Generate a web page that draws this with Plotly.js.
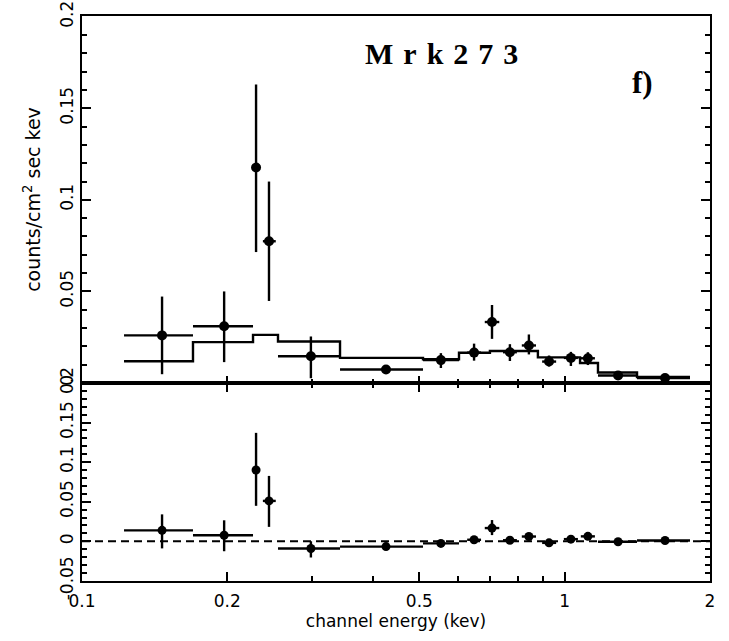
<!DOCTYPE html>
<html>
<head>
<meta charset="utf-8">
<script src="https://cdn.plot.ly/plotly-3.0.1.min.js"></script>
<style>
  html, body { margin: 0; padding: 0; background: #fff; }
  #plot { width: 729px; height: 641px; }
</style>
</head>
<body>
<div id="plot"></div>
<script>
// Mrk 273 spectrum: channel energy bins (keV), count rates and residuals.
const energy   = [0.1465, 0.197, 0.2294, 0.244, 0.298, 0.4264, 0.554, 0.649, 0.707, 0.770, 0.843, 0.928, 1.03, 1.117, 1.29, 1.614];
const energyLo = [0.1222, 0.1698, 0.2294, 0.237, 0.2547, 0.3424, 0.5087, 0.628, 0.683, 0.745, 0.815, 0.898, 0.996, 1.080, 1.172, 1.412];
const energyHi = [0.1698, 0.2261, 0.2294, 0.252, 0.3424, 0.5087, 0.604, 0.671, 0.732, 0.796, 0.872, 0.960, 1.065, 1.155, 1.412, 1.818];

// observed count rate (counts/cm^2 sec keV) with lower / upper error limits
const counts   = [0.026, 0.031, 0.1177, 0.0774, 0.0146, 0.0074, 0.0125, 0.0166, 0.0333, 0.0168, 0.0205, 0.0117, 0.0137, 0.0135, 0.0041, 0.0027];
const countsLo = [0.0048, 0.0114, 0.0715, 0.0448, 0.0026, 0.0052, 0.0082, 0.0122, 0.0241, 0.0120, 0.0156, 0.0090, 0.0093, 0.0098, 0.0025, 0.0015];
const countsHi = [0.0472, 0.0500, 0.1630, 0.1100, 0.0254, 0.0096, 0.0163, 0.0215, 0.0426, 0.0212, 0.0265, 0.0150, 0.0170, 0.0168, 0.0057, 0.0039];

// folded model (histogram): bin edges and model rate per bin
const modelEdges = [0.1222, 0.1698, 0.2261, 0.2547, 0.3424, 0.5087, 0.604, 0.700, 0.880, 1.076, 1.172, 1.412, 1.818];
const modelRate  = [0.0119, 0.0223, 0.0263, 0.0227, 0.0137, 0.0130, 0.0165, 0.0175, 0.0140, 0.0109, 0.0057, 0.0033];

// residuals (data - model) with lower / upper limits
const resid   = [0.0138, 0.0076, 0.090, 0.051, -0.0091, -0.0067, -0.0027, 0.0019, 0.0167, 0.0013, 0.006, -0.002, 0.0027, 0.0062, -0.0006, 0.001];
const residLo = [-0.009, -0.0126, 0.0448, 0.0182, -0.0205, -0.0097, -0.0067, -0.0021, 0.0078, -0.0027, 0.0020, -0.0050, -0.0003, 0.0032, -0.0036, -0.0020];
const residHi = [0.034, 0.0265, 0.137, 0.0826, 0.0, -0.0037, 0.0013, 0.0059, 0.0268, 0.0053, 0.0100, 0.0010, 0.0057, 0.0092, 0.0024, 0.0040];

const xTicks = [0.1, 0.2, 0.5, 1, 2];
const xTickText = ['0.1', '0.2', '0.5', '1', '2'];
const xMinorTicks = [0.3, 0.4, 0.6, 0.7, 0.8, 0.9];
const yTopTicks = [0, 0.05, 0.1, 0.15, 0.2];
const yTopText = ['0', '0.05', '0.1', '0.15', '0.2'];
const yResTicks = [-0.05, 0, 0.05, 0.1, 0.15, 0.2];
const yResText = ['-0.05', '0', '0.05', '0.1', '0.15', '0.2'];

const ink = '#000';
const diff = (a, b) => a.map((v, i) => v - b[i]);

const errX = {
  type: 'data', symmetric: false,
  array: diff(energyHi, energy), arrayminus: diff(energy, energyLo),
  color: ink, thickness: 2.4, width: 0
};

const data = [
  {
    // histogram model
    x: modelEdges,
    y: modelRate.concat([modelRate[modelRate.length - 1]]),
    xaxis: 'x2', yaxis: 'y2',
    mode: 'lines', line: { shape: 'hv', color: ink, width: 2.4 },
    hoverinfo: 'skip', showlegend: false
  },
  {
    x: energy, y: counts, xaxis: 'x2', yaxis: 'y2',
    mode: 'markers', marker: { color: ink, size: 10 },
    error_x: errX,
    error_y: { type: 'data', symmetric: false,
      array: diff(countsHi, counts), arrayminus: diff(counts, countsLo),
      color: ink, thickness: 2.4, width: 0 },
    showlegend: false
  },
  {
    x: energy, y: resid, xaxis: 'x', yaxis: 'y',
    mode: 'markers', marker: { color: ink, size: 9 },
    error_x: errX,
    error_y: { type: 'data', symmetric: false,
      array: diff(residHi, resid), arrayminus: diff(resid, residLo),
      color: ink, thickness: 2.4, width: 0 },
    showlegend: false
  }
];

const tickFont = { family: 'DejaVu Sans, sans-serif', size: 17, color: ink };
const bottomFrac = 198 / 565;

const layout = {
  width: 729, height: 641,
  margin: { l: 82, r: 19, t: 16, b: 60 },
  paper_bgcolor: '#fff', plot_bgcolor: '#fff',
  showlegend: false,
  xaxis: {
    type: 'log', range: [Math.log10(0.1), Math.log10(2)], domain: [0, 1], anchor: 'y',
    tickmode: 'array', tickvals: xTicks, ticktext: xTickText,
    ticks: 'inside', ticklen: 9, tickwidth: 2, tickcolor: ink, ticklabelstandoff: 4,
    ticklabeloverflow: 'allow',
    minor: { tickmode: 'array', tickvals: xMinorTicks, ticks: 'inside', ticklen: 5, tickwidth: 2, tickcolor: ink },
    showline: true, linecolor: ink, linewidth: 2, mirror: 'ticks',
    showgrid: false, zeroline: false, tickfont: tickFont,
    title: { text: 'channel energy (kev)', font: { family: 'DejaVu Sans, sans-serif', size: 17, color: ink }, standoff: 4 }
  },
  yaxis: {
    domain: [0, bottomFrac], range: [-0.0502, 0.2], anchor: 'x',
    tickmode: 'array', tickvals: yResTicks, ticktext: yResText, tickangle: -90,
    ticklabeloverflow: 'allow',
    ticks: 'inside', ticklen: 9, tickwidth: 2, tickcolor: ink,
    minor: { dtick: 0.01, ticks: 'inside', ticklen: 5, tickwidth: 2, tickcolor: ink },
    showline: true, linecolor: ink, linewidth: 2, mirror: 'ticks',
    showgrid: false, zeroline: false, tickfont: tickFont
  },
  xaxis2: {
    type: 'log', range: [Math.log10(0.1), Math.log10(2)], domain: [0, 1], anchor: 'y2', matches: 'x',
    tickmode: 'array', tickvals: xTicks, showticklabels: false,
    ticks: 'inside', ticklen: 7, tickwidth: 2, tickcolor: ink,
    minor: { tickmode: 'array', tickvals: xMinorTicks, ticks: 'inside', ticklen: 4, tickwidth: 2, tickcolor: ink },
    showline: true, linecolor: ink, linewidth: 2, mirror: true,
    showgrid: false, zeroline: false
  },
  yaxis2: {
    domain: [bottomFrac, 1], range: [0, 0.2004], anchor: 'x2',
    tickmode: 'array', tickvals: yTopTicks, ticktext: yTopText, tickangle: -90,
    ticklabeloverflow: 'allow',
    ticks: 'inside', ticklen: 9, tickwidth: 2, tickcolor: ink,
    minor: { dtick: 0.01, ticks: 'inside', ticklen: 5, tickwidth: 2, tickcolor: ink },
    showline: true, linecolor: ink, linewidth: 2, mirror: 'ticks',
    showgrid: false, zeroline: false, tickfont: tickFont,
    title: { text: 'counts/cm<sup>2</sup> sec kev', font: { family: 'DejaVu Sans, sans-serif', size: 19, color: ink }, standoff: 12 }
  },
  shapes: [
    // zero level of the residual panel
    { type: 'line', xref: 'x domain', yref: 'y', x0: 0, x1: 1, y0: 0, y1: 0,
      line: { color: ink, width: 2, dash: '8px,5px' } }
  ],
  annotations: [
    { text: '<b><span style="letter-spacing:10px">Mrk273</span></b>', xref: 'paper', yref: 'paper',
      x: 0.58, y: 0.933, xanchor: 'center', yanchor: 'middle', showarrow: false,
      font: { family: 'Liberation Serif, Times New Roman, serif', size: 30, color: ink } },
    { text: '<b>f)</b>', xref: 'paper', yref: 'paper',
      x: 0.893, y: 0.883, xanchor: 'center', yanchor: 'middle', showarrow: false,
      font: { family: 'Liberation Serif, Times New Roman, serif', size: 31, color: ink } }
  ]
};

Plotly.newPlot('plot', data, layout, { staticPlot: true, displayModeBar: false });
</script>
</body>
</html>
